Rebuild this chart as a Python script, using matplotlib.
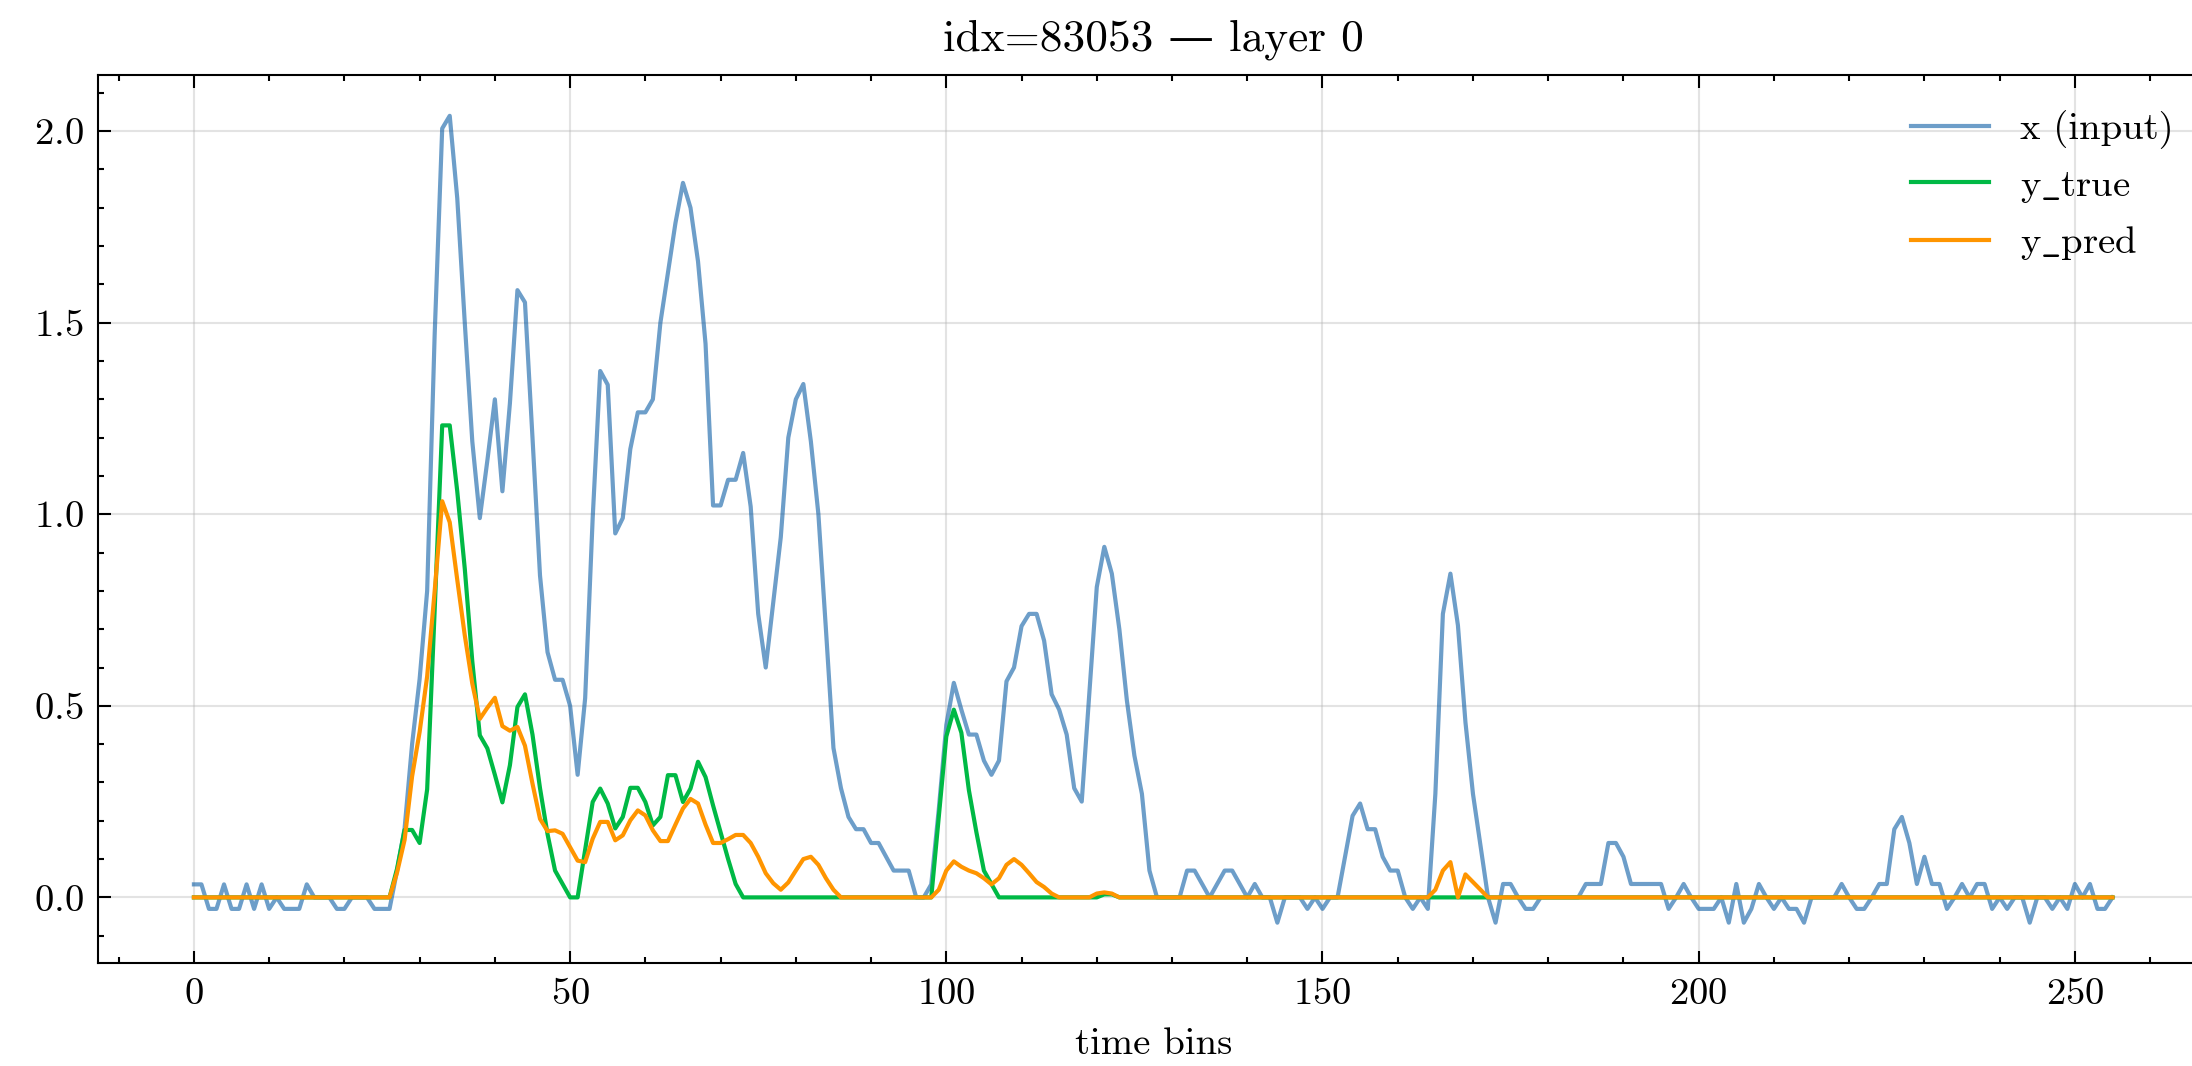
import matplotlib
matplotlib.use("Agg")
import matplotlib.pyplot as plt
import numpy as np

# DATA

time_bins = np.arange(256)

x_input = [
    0.034, 0.034, -0.03, -0.03, 0.034, -0.03, -0.03, 0.034, -0.03, 0.034, -0.03, 0.0, -0.03, -0.03, -0.03, 0.034,
    0.0, 0.0, 0.0, -0.03, -0.03, 0.0, 0.0, 0.0, -0.03, -0.03, -0.03, 0.07, 0.18, 0.40, 0.57, 0.80,
    1.47, 2.007, 2.04, 1.825, 1.50, 1.19, 0.99, 1.14, 1.30, 1.06, 1.29, 1.585, 1.553, 1.20, 0.84, 0.64,
    0.568, 0.568, 0.50, 0.32, 0.52, 0.99, 1.374, 1.338, 0.95, 0.99, 1.17, 1.266, 1.266, 1.30, 1.50, 1.63,
    1.76, 1.865, 1.80, 1.66, 1.445, 1.023, 1.023, 1.09, 1.09, 1.16, 1.02, 0.74, 0.60, 0.77, 0.94, 1.20,
    1.30, 1.34, 1.19, 1.00, 0.70, 0.39, 0.285, 0.21, 0.178, 0.178, 0.142, 0.142, 0.106, 0.07, 0.07, 0.07,
    0.0, 0.0, 0.034, 0.23, 0.45, 0.56, 0.49, 0.425, 0.425, 0.357, 0.32, 0.357, 0.564, 0.60, 0.708, 0.74,
    0.74, 0.67, 0.53, 0.49, 0.425, 0.285, 0.25, 0.53, 0.81, 0.915, 0.845, 0.70, 0.514, 0.37, 0.27, 0.07,
    0.0, 0.0, 0.0, 0.0, 0.07, 0.07, 0.035, 0.0, 0.035, 0.07, 0.07, 0.035, 0.0, 0.035, 0.0, 0.0,
    -0.066, 0.0, 0.0, 0.0, -0.03, 0.0, -0.03, 0.0, 0.0, 0.106, 0.213, 0.245, 0.178, 0.178, 0.106, 0.07,
    0.07, 0.0, -0.03, 0.0, -0.03, 0.27, 0.74, 0.845, 0.71, 0.457, 0.27, 0.135, 0.0, -0.066, 0.035, 0.035,
    0.0, -0.03, -0.03, 0.0, 0.0, 0.0, 0.0, 0.0, 0.0, 0.035, 0.035, 0.035, 0.142, 0.142, 0.106, 0.035,
    0.035, 0.035, 0.035, 0.035, -0.03, 0.0, 0.035, 0.0, -0.03, -0.03, -0.03, 0.0, -0.066, 0.035, -0.066, -0.03,
    0.035, 0.0, -0.03, 0.0, -0.03, -0.03, -0.066, 0.0, 0.0, 0.0, 0.0, 0.035, 0.0, -0.03, -0.03, 0.0,
    0.035, 0.035, 0.178, 0.21, 0.142, 0.035, 0.106, 0.035, 0.035, -0.03, 0.0, 0.035, 0.0, 0.035, 0.035, -0.03,
    0.0, -0.03, 0.0, 0.0, -0.066, 0.0, 0.0, -0.03, 0.0, -0.03, 0.035, 0.0, 0.035, -0.03, -0.03, 0.0,
]

y_true = [
    0.0, 0.0, 0.0, 0.0, 0.0, 0.0, 0.0, 0.0, 0.0, 0.0, 0.0, 0.0, 0.0, 0.0, 0.0, 0.0,
    0.0, 0.0, 0.0, 0.0, 0.0, 0.0, 0.0, 0.0, 0.0, 0.0, 0.0, 0.075, 0.176, 0.176, 0.142, 0.282,
    0.75, 1.232, 1.232, 1.06, 0.858, 0.616, 0.423, 0.389, 0.32, 0.248, 0.345, 0.497, 0.53, 0.425, 0.285, 0.165,
    0.07, 0.035, 0.0, 0.0, 0.125, 0.249, 0.284, 0.245, 0.18, 0.21, 0.286, 0.286, 0.249, 0.188, 0.21, 0.319,
    0.319, 0.249, 0.284, 0.354, 0.314, 0.24, 0.17, 0.1, 0.035, 0.0, 0.0, 0.0, 0.0, 0.0, 0.0, 0.0,
    0.0, 0.0, 0.0, 0.0, 0.0, 0.0, 0.0, 0.0, 0.0, 0.0, 0.0, 0.0, 0.0, 0.0, 0.0, 0.0,
    0.0, 0.0, 0.0, 0.21, 0.42, 0.49, 0.43, 0.28, 0.17, 0.07, 0.035, 0.0, 0.0, 0.0, 0.0, 0.0,
    0.0, 0.0, 0.0, 0.0, 0.0, 0.0, 0.0, 0.0, 0.0, 0.008, 0.008, 0.0, 0.0, 0.0, 0.0, 0.0,
    0.0, 0.0, 0.0, 0.0, 0.0, 0.0, 0.0, 0.0, 0.0, 0.0, 0.0, 0.0, 0.0, 0.0, 0.0, 0.0,
    0.0, 0.0, 0.0, 0.0, 0.0, 0.0, 0.0, 0.0, 0.0, 0.0, 0.0, 0.0, 0.0, 0.0, 0.0, 0.0,
    0.0, 0.0, 0.0, 0.0, 0.0, 0.0, 0.0, 0.0, 0.0, 0.0, 0.0, 0.0, 0.0, 0.0, 0.0, 0.0,
    0.0, 0.0, 0.0, 0.0, 0.0, 0.0, 0.0, 0.0, 0.0, 0.0, 0.0, 0.0, 0.0, 0.0, 0.0, 0.0,
    0.0, 0.0, 0.0, 0.0, 0.0, 0.0, 0.0, 0.0, 0.0, 0.0, 0.0, 0.0, 0.0, 0.0, 0.0, 0.0,
    0.0, 0.0, 0.0, 0.0, 0.0, 0.0, 0.0, 0.0, 0.0, 0.0, 0.0, 0.0, 0.0, 0.0, 0.0, 0.0,
    0.0, 0.0, 0.0, 0.0, 0.0, 0.0, 0.0, 0.0, 0.0, 0.0, 0.0, 0.0, 0.0, 0.0, 0.0, 0.0,
    0.0, 0.0, 0.0, 0.0, 0.0, 0.0, 0.0, 0.0, 0.0, 0.0, 0.0, 0.0, 0.0, 0.0, 0.0, 0.0,
]

y_pred = [
    0.0, 0.0, 0.0, 0.0, 0.0, 0.0, 0.0, 0.0, 0.0, 0.0, 0.0, 0.0, 0.0, 0.0, 0.0, 0.0,
    0.0, 0.0, 0.0, 0.0, 0.0, 0.0, 0.0, 0.0, 0.0, 0.0, 0.0, 0.065, 0.15, 0.316, 0.432, 0.577,
    0.80, 1.034, 0.979, 0.829, 0.684, 0.558, 0.466, 0.495, 0.521, 0.447, 0.435, 0.445, 0.396, 0.297, 0.205, 0.173,
    0.175, 0.166, 0.131, 0.096, 0.092, 0.153, 0.197, 0.197, 0.149, 0.162, 0.201, 0.227, 0.214, 0.175, 0.147, 0.147,
    0.19, 0.232, 0.257, 0.245, 0.19, 0.142, 0.142, 0.152, 0.163, 0.163, 0.142, 0.106, 0.063, 0.037, 0.02, 0.039,
    0.07, 0.10, 0.106, 0.085, 0.05, 0.02, 0.0, 0.0, 0.0, 0.0, 0.0, 0.0, 0.0, 0.0, 0.0, 0.0,
    0.0, 0.0, 0.0, 0.02, 0.07, 0.094, 0.08, 0.07, 0.063, 0.05, 0.034, 0.05, 0.085, 0.1, 0.085, 0.063,
    0.04, 0.027, 0.01, 0.0, 0.0, 0.0, 0.0, 0.0, 0.01, 0.013, 0.01, 0.0, 0.0, 0.0, 0.0, 0.0,
    0.0, 0.0, 0.0, 0.0, 0.0, 0.0, 0.0, 0.0, 0.0, 0.0, 0.0, 0.0, 0.0, 0.0, 0.0, 0.0,
    0.0, 0.0, 0.0, 0.0, 0.0, 0.0, 0.0, 0.0, 0.0, 0.0, 0.0, 0.0, 0.0, 0.0, 0.0, 0.0,
    0.0, 0.0, 0.0, 0.0, 0.0, 0.02, 0.07, 0.092, 0.0, 0.06, 0.04, 0.02, 0.0, 0.0, 0.0, 0.0,
    0.0, 0.0, 0.0, 0.0, 0.0, 0.0, 0.0, 0.0, 0.0, 0.0, 0.0, 0.0, 0.0, 0.0, 0.0, 0.0,
    0.0, 0.0, 0.0, 0.0, 0.0, 0.0, 0.0, 0.0, 0.0, 0.0, 0.0, 0.0, 0.0, 0.0, 0.0, 0.0,
    0.0, 0.0, 0.0, 0.0, 0.0, 0.0, 0.0, 0.0, 0.0, 0.0, 0.0, 0.0, 0.0, 0.0, 0.0, 0.0,
    0.0, 0.0, 0.0, 0.0, 0.0, 0.0, 0.0, 0.0, 0.0, 0.0, 0.0, 0.0, 0.0, 0.0, 0.0, 0.0,
    0.0, 0.0, 0.0, 0.0, 0.0, 0.0, 0.0, 0.0, 0.0, 0.0, 0.0, 0.0, 0.0, 0.0, 0.0, 0.0,
]

title = "idx=83053 — layer 0"
# the underscore goes through mathtext, cmr10 has a dot accent at '_'
labels = ["x (input)", r"$\mathrm{y\_true}$", r"$\mathrm{y\_pred}$"]

# STYLE (science-like look)

plt.rcParams["font.family"] = ["cmr10", "DejaVu Serif"]
plt.rcParams["mathtext.fontset"] = "cm"
plt.rcParams["axes.formatter.use_mathtext"] = True
plt.rcParams["axes.linewidth"] = 0.5
plt.rcParams["xtick.direction"] = "in"
plt.rcParams["ytick.direction"] = "in"
plt.rcParams["xtick.top"] = True
plt.rcParams["ytick.right"] = True
plt.rcParams["xtick.major.size"] = 3
plt.rcParams["ytick.major.size"] = 3
plt.rcParams["xtick.minor.size"] = 1.5
plt.rcParams["ytick.minor.size"] = 1.5
plt.rcParams["xtick.major.width"] = 0.5
plt.rcParams["ytick.major.width"] = 0.5
plt.rcParams["xtick.minor.width"] = 0.5
plt.rcParams["ytick.minor.width"] = 0.5
plt.rcParams["xtick.minor.visible"] = True
plt.rcParams["ytick.minor.visible"] = True


def main():
    fig = plt.figure(figsize=(2192 / 300, 1066 / 300), dpi=300)
    # axes runs a bit past the right edge, like the reference crop
    ax = fig.add_axes([0.0447, 0.0966, 0.9628, 0.8326])

    ax.plot(time_bins, x_input, color="#0C5DA5", alpha=0.6, lw=1.0, label=labels[0])
    ax.plot(time_bins, y_true, color="#00B945", lw=1.0, label=labels[1])
    ax.plot(time_bins, y_pred, color="#FF9500", lw=1.0, label=labels[2])

    ax.grid(True, color="#b0b0b0", alpha=0.35, lw=0.5)
    ax.set_xlabel("time bins", fontsize=9.3)
    ax.set_title(title, fontsize=10.9)
    ax.tick_params(labelsize=9.3)
    ax.legend(loc="upper right", frameon=False, fontsize=9.3)

    fig.savefig("out.png", dpi=300)


if __name__ == "__main__":
    main()
